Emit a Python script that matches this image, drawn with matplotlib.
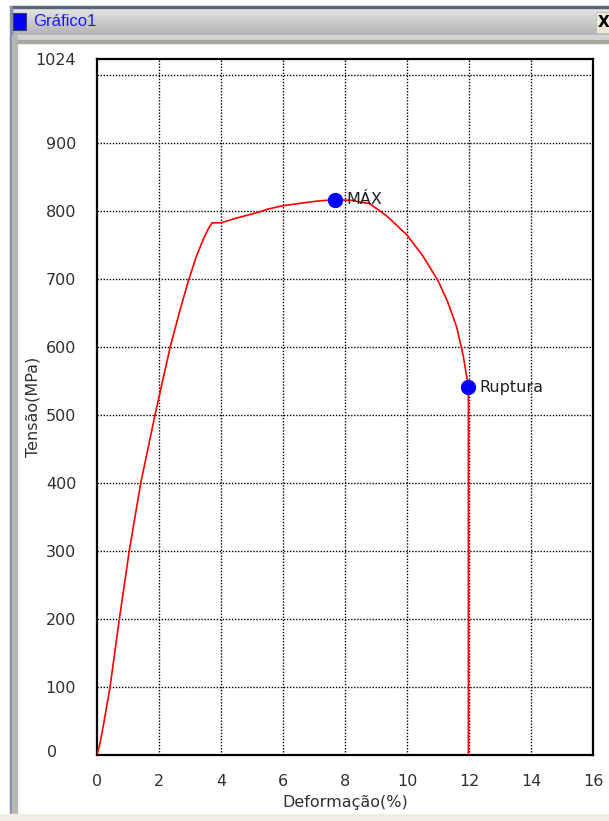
import numpy as np
import matplotlib
matplotlib.use("Agg")
import matplotlib.pyplot as plt
from matplotlib.patches import Rectangle

# ---- data ----
deformacao = [0, 0.1, 0.2, 0.42, 0.72, 1.04, 1.41, 1.87, 2.36, 2.65, 2.95, 3.2,
              3.44, 3.6, 3.71, 4.0, 4.5, 5.17, 5.5, 5.98, 6.6, 7.11, 7.67,
              8.2, 8.8, 9.35, 10.0, 10.5, 11.0, 11.3, 11.6, 11.82, 11.98, 11.98]
tensao = [0, 18, 42, 100, 200, 300, 400, 500, 600, 650, 698, 733,
          760, 775, 783, 783, 790, 798, 803, 808, 812, 815, 817,
          816, 811, 793, 765, 735, 698, 668, 630, 586, 541, 0]
pontos_x = [7.67, 11.98]
pontos_y = [817, 541]
pontos_rotulos = ["MÁX", "Ruptura"]
xticks = [0, 2, 4, 6, 8, 10, 12, 14, 16]
yticks = [0, 100, 200, 300, 400, 500, 600, 700, 800, 900, 1024]
ygrid = [100, 200, 300, 400, 500, 600, 700, 800, 900, 1000]
xgrid = [2, 4, 6, 8, 10, 12, 14]

plt.rcParams['font.family'] = ['DejaVu Sans']
FS = 11.5
TXT = '#303030'

W, H = 609, 821
fig = plt.figure(figsize=(W / 100, H / 100), dpi=100)
fig.patch.set_facecolor('white')

# ---- window chrome (pixel coordinates) ----
bg = fig.add_axes([0, 0, 1, 1])
bg.set_xlim(0, W)
bg.set_ylim(H, 0)
bg.axis('off')
grad = np.linspace(0.90, 0.70, 40).reshape(-1, 1)
bg.imshow(np.dstack([grad, grad, grad]), extent=[10, W, 35, 8],
          aspect='auto', zorder=1)
bg.add_patch(Rectangle((10, 6), W, 2.5, color='#5a6478', zorder=2))
bg.add_patch(Rectangle((10, 35), W, 6, color='#d4d4d4', zorder=2))
bg.add_patch(Rectangle((10, 6), 2, H, color='#8090b0', zorder=2))
bg.add_patch(Rectangle((12, 35), 5, H, color='#b8b8b0', zorder=2))
bg.add_patch(Rectangle((17, 40), W, 3, color='#a8a8a0', zorder=2))
bg.add_patch(Rectangle((0, 814), W, 7, color='#f0ede4', zorder=2))
bg.add_patch(Rectangle((13, 13), 13, 17, facecolor='#0000ee', edgecolor='#404060',
                       lw=0.8, zorder=3))
bg.text(33, 21.5, "Gráfico1", color='#1a1aff', fontsize=12, va='center', ha='left',
        family='Liberation Sans', zorder=3)
bg.add_patch(Rectangle((596, 12), 14, 21, facecolor='#ece9d8', edgecolor='#c0c0b0',
                       lw=0.6, zorder=3))
bg.text(604, 22.5, "X", color='black', fontsize=11, fontweight='bold',
        va='center', ha='center', zorder=4)

# ---- chart ----
ax = fig.add_axes([97 / W, 1 - 755 / H, 496 / W, 696 / H])
ax.set_facecolor('white')
ax.set_xlim(0, 16)
ax.set_ylim(0, 1024)

for gx in xgrid:
    ax.axvline(gx, color='black', lw=1.0, ls=(0, (1, 1.2)), zorder=1)
for gy in ygrid:
    ax.axhline(gy, color='black', lw=1.0, ls=(0, (1, 1.2)), zorder=1)

ax.plot(deformacao, tensao, color='red', lw=1.2, zorder=3)
ax.plot(pontos_x, pontos_y, 'o', color='#0000ff', markersize=10, zorder=4)
for px, py, lab in zip(pontos_x, pontos_y, pontos_rotulos):
    ax.annotate(lab, (px, py), xytext=(8, 0), textcoords='offset points',
                fontsize=FS, va='center', ha='left', color='#202020', zorder=5)

ax.set_xticks(xticks)
ax.set_yticks(yticks)
ax.set_xticklabels([str(v) for v in xticks])
ax.set_yticklabels(['' if v == 0 else str(v) for v in yticks])
ax.tick_params(axis='both', length=0, labelsize=FS, colors=TXT)
ax.tick_params(axis='x', pad=14)
ax.tick_params(axis='y', pad=15)
# y-axis zero label sits to the left like the reference
ax.text(-45 / 496, 0.004, "0", fontsize=FS, color=TXT, ha='center', va='center',
        transform=ax.transAxes, clip_on=False)

for s in ax.spines.values():
    s.set_color('black')
    s.set_linewidth(1.6)

ax.set_xlabel("Deformação(%)", fontsize=FS, color=TXT)
ax.xaxis.set_label_coords(0.5, -(795 - 755) / 696)
ax.set_ylabel("Tensão(MPa)", fontsize=FS, color=TXT)
ax.yaxis.set_label_coords(-(97 - 40) / 496, 0.5)

fig.savefig("out.png", dpi=100, facecolor=fig.get_facecolor())
